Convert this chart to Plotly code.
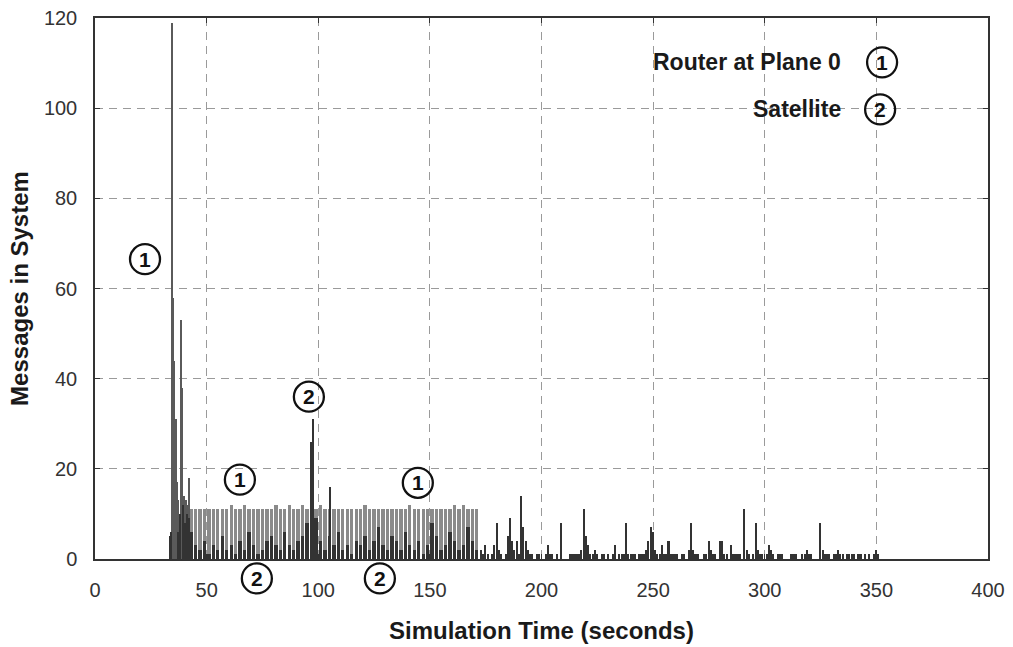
import plotly.graph_objects as go

# ---------------- data ----------------
# Router at Plane 0 (series 1)
router_spike_time = [34.5, 35.1, 35.6, 36.1, 36.6, 37.2, 38.3, 39.0, 39.8, 40.6, 41.4, 42.3]
router_spike_msgs = [119, 58, 44, 31, 17, 13, 53, 38, 14, 13, 12, 18]

plateau_time = list(range(43, 172, 2))
router_plateau_msgs = [
    11, 11, 11, 11, 11, 11, 11, 11, 11, 12, 11, 11, 12,
    11, 11, 11, 11, 11, 11, 12, 11, 11, 12, 11, 11, 12,
    11, 11, 11, 12, 11, 11, 11, 11, 11, 11, 11, 11, 11,
    12, 11, 11, 11, 11, 11, 11, 11, 11, 11, 12, 11, 11,
    11, 11, 11, 11, 11, 11, 11, 12, 11, 12, 11, 11, 11,
]

# Satellite (series 2)
sat_plateau_msgs = [
    6, 3, 2, 4, 1, 3, 2, 5, 2, 3, 1, 4, 2,
    6, 3, 1, 2, 4, 5, 3, 2, 6, 3, 2, 4, 5,
    8, 26, 9, 4, 2, 5, 3, 6, 2, 3, 1, 4, 3,
    5, 2, 4, 7, 3, 2, 5, 4, 2, 6, 3, 2, 4,
    1, 3, 8, 5, 2, 3, 6, 4, 2, 3, 7, 4, 2,
]
sat_spike_time = [33.8, 34.2, 37.0, 38.0, 39.4, 40.2, 41.0, 42.0, 97.6, 105.3]
sat_spike_msgs = [5, 6, 6, 10, 12, 8, 10, 9, 31, 16]

tail_time = list(range(173, 353))
sat_tail_msgs = [
    2, 1, 3, 1, 0, 1, 3, 8, 2, 1, 0, 1, 5, 9, 4, 2, 4, 1, 14, 7,
    4, 2, 1, 1, 0, 1, 1, 0, 0, 1, 3, 1, 1, 0, 1, 0, 8, 0, 0, 0,
    1, 1, 1, 1, 1, 2, 11, 5, 3, 1, 1, 2, 1, 0, 1, 1, 0, 1, 0, 1,
    3, 0, 1, 1, 1, 8, 1, 1, 1, 1, 0, 1, 1, 1, 2, 4, 7, 6, 2, 1,
    1, 3, 1, 1, 4, 1, 1, 1, 1, 0, 1, 1, 0, 2, 8, 2, 1, 1, 0, 0,
    1, 1, 4, 2, 1, 1, 0, 4, 4, 1, 1, 0, 3, 1, 1, 1, 1, 0, 11, 2,
    1, 0, 1, 8, 2, 1, 1, 0, 1, 3, 2, 1, 0, 1, 1, 1, 0, 0, 0, 1,
    1, 1, 0, 0, 1, 1, 2, 1, 1, 0, 0, 0, 8, 2, 1, 1, 1, 0, 1, 1,
    2, 1, 1, 0, 1, 1, 1, 1, 0, 1, 1, 0, 1, 0, 1, 0, 1, 2, 1, 0,
]

x_ticks = [0, 50, 100, 150, 200, 250, 300, 350, 400]
y_ticks = [0, 20, 40, 60, 80, 100, 120]

# label markers: (time, messages, number)
markers = [
    (22.4, 66.5, "1"), (64.9, 17.6, "1"), (144.6, 16.9, "1"),
    (95.8, 36.0, "2"), (72.5, -4.3, "2"), (127.6, -4.3, "2"),
]
legend_items = [("Router at Plane 0", "1"), ("Satellite", "2")]

X_MAX, Y_MAX = 400, 120

# ---------------- figure ----------------
fig = go.Figure()
fig.add_bar(x=plateau_time, y=router_plateau_msgs, width=1.5,
            marker=dict(color="#8a8a8a", line=dict(width=0)), name="Router")
fig.add_bar(x=router_spike_time, y=router_spike_msgs, width=0.45,
            marker=dict(color="#5a5a5a", line=dict(width=0)), name="Router spikes")
fig.add_bar(x=plateau_time, y=sat_plateau_msgs, width=1.5,
            marker=dict(color="#333333", line=dict(width=0)), name="Satellite")
fig.add_bar(x=sat_spike_time, y=sat_spike_msgs, width=0.45,
            marker=dict(color="#333333", line=dict(width=0)), name="Satellite spikes")
fig.add_bar(x=tail_time, y=sat_tail_msgs, width=0.7,
            marker=dict(color="#333333", line=dict(width=0)), name="Satellite tail")

font_main = "Liberation Sans, Arial, sans-serif"

shapes = []
annotations = []


def circled(px, py, num):
    shapes.append(dict(type="circle", xref="paper", yref="paper",
                       xsizemode="pixel", ysizemode="pixel",
                       xanchor=px, yanchor=py, x0=-15, x1=15, y0=-15, y1=15,
                       line=dict(color="#111111", width=2.3),
                       fillcolor="rgba(255,255,255,0)", layer="above"))
    annotations.append(dict(x=px, y=py, xref="paper", yref="paper", text="<b>%s</b>" % num,
                            showarrow=False, font=dict(family=font_main, size=21, color="#111111"),
                            xanchor="center", yanchor="middle"))


for t, v, n in markers:
    circled(t / X_MAX, v / Y_MAX, n)

legend_rows_y = [0.918, 0.831]
legend_circle_x = [0.8814, 0.8792]
for (label, n), py, cx in zip(legend_items, legend_rows_y, legend_circle_x):
    circled(cx, py, n)
    annotations.append(dict(x=0.8376, y=py, xref="paper", yref="paper", text="<b>%s</b>" % label,
                            showarrow=False, xanchor="right", yanchor="middle",
                            font=dict(family=font_main, size=23, color="#1a1a1a")))

fig.update_layout(
    width=1013, height=647,
    margin=dict(l=95, r=25, t=18, b=88),
    paper_bgcolor="white", plot_bgcolor="white",
    barmode="overlay", bargap=0, showlegend=False,
    shapes=shapes, annotations=annotations,
    font=dict(family=font_main, color="#222222"),
)
fig.update_xaxes(
    range=[0, X_MAX], tickvals=x_ticks, ticktext=[str(v) for v in x_ticks],
    showgrid=True, gridcolor="#9a9a9a", gridwidth=1, griddash="8px,6px",
    showline=True, linecolor="#333333", linewidth=1.5, mirror="ticks",
    ticks="inside", ticklen=5, tickcolor="#333333", zeroline=False,
    tickfont=dict(size=20, color="#333333"), ticklabelstandoff=12,
    automargin=False,
    title=dict(text="<b>Simulation Time (seconds)</b>", font=dict(size=24, color="#1a1a1a"), standoff=22),
)
fig.update_yaxes(
    range=[0, Y_MAX], tickvals=y_ticks, ticktext=[str(v) for v in y_ticks],
    showgrid=True, gridcolor="#9a9a9a", gridwidth=1, griddash="8px,6px",
    showline=True, linecolor="#333333", linewidth=1.5, mirror="ticks",
    ticks="inside", ticklen=5, tickcolor="#333333", zeroline=False,
    tickfont=dict(size=20, color="#333333"), ticklabelstandoff=12,
    automargin=False,
    title=dict(text="<b>Messages in System</b>", font=dict(size=24, color="#1a1a1a"), standoff=8),
)

fig.write_html("out.html")
